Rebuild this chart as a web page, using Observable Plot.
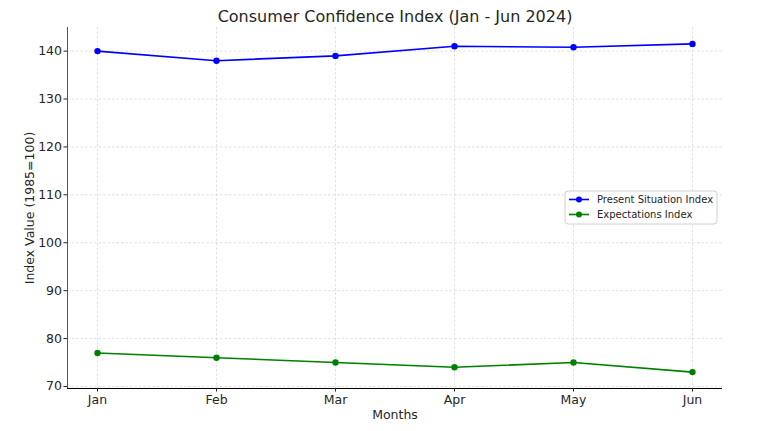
<!DOCTYPE html>
<html>
<head>
<meta charset="utf-8">
<script src="https://cdn.jsdelivr.net/npm/d3@7"></script>
<script src="https://cdn.jsdelivr.net/npm/@observablehq/plot@0.6"></script>
<style>
  html, body { margin: 0; padding: 0; background: #fff; }
  #chart { position: relative; width: 783px; height: 431px; }
  svg { font-family: "DejaVu Sans", sans-serif; }
</style>
</head>
<body>
<div id="chart"></div>
<script>
const months = ["Jan", "Feb", "Mar", "Apr", "May", "Jun"];
const presentSituation = [140, 138, 139, 141, 140.8, 141.5];
const expectations = [77, 76, 75, 74, 75, 73];
const yTicks = [70, 80, 90, 100, 110, 120, 130, 140];
const seriesNames = ["Present Situation Index", "Expectations Index"];
const seriesColors = ["#0000ff", "#008000"];
const titleText = "Consumer Confidence Index (Jan - Jun 2024)";

const rows = [];
months.forEach((m, i) => {
  rows.push({month: m, value: presentSituation[i], series: seriesNames[0]});
  rows.push({month: m, value: expectations[i], series: seriesNames[1]});
});

const yMin = 69.575, yMax = 144.925;

const plot = Plot.plot({
  width: 783,
  height: 431,
  marginLeft: 67,
  marginRight: 61,
  marginTop: 27,
  marginBottom: 43,
  style: {fontFamily: "DejaVu Sans, sans-serif", color: "#262626", background: "#fff"},
  x: {type: "point", domain: months, padding: 0.25, label: null},
  y: {domain: [yMin, yMax], label: null},
  color: {domain: seriesNames, range: seriesColors},
  marks: [
    Plot.gridX(months, {stroke: "#d4d4d4", strokeOpacity: 1, strokeDasharray: "2.5,2", strokeWidth: 0.7}),
    Plot.gridY(yTicks, {stroke: "#d4d4d4", strokeOpacity: 1, strokeDasharray: "2.5,2", strokeWidth: 0.7}),
    Plot.frame({anchor: "left", stroke: "#555"}),
    Plot.ruleY([yMin], {stroke: "#000", strokeWidth: 1.2}),
    Plot.axisX({ticks: months, tickSize: 3.5, tickPadding: 3, fontSize: 12.5, label: "Months", labelAnchor: "center", labelArrow: "none", labelOffset: 30}),
    Plot.axisY({ticks: yTicks, tickSize: 3.5, tickPadding: 2, fontSize: 12.5, label: "Index Value (1985=100)", labelAnchor: "center", labelArrow: "none", labelOffset: 42}),
    Plot.line(rows, {x: "month", y: "value", z: "series", stroke: "series", strokeWidth: 1.6}),
    Plot.dot(rows, {x: "month", y: "value", fill: "series", r: 3.2}),
    Plot.text([titleText], {frameAnchor: "top", dy: -17, fontSize: 16, fill: "#262626"})
  ]
});

document.getElementById("chart").appendChild(plot);

// Legend inside the SVG
const svg = d3.select(plot);
const lg = svg.append("g").attr("transform", "translate(565,191)").attr("text-anchor", "start");
lg.append("rect").attr("width", 152).attr("height", 33).attr("rx", 3)
  .attr("fill", "#fff").attr("fill-opacity", 0.85).attr("stroke", "#d0d0d0");
seriesNames.forEach((name, i) => {
  const y = 8.5 + i * 15;
  lg.append("line").attr("x1", 4).attr("x2", 24).attr("y1", y).attr("y2", y)
    .attr("stroke", seriesColors[i]).attr("stroke-width", 1.6);
  lg.append("circle").attr("cx", 14).attr("cy", y).attr("r", 3).attr("fill", seriesColors[i]);
  lg.append("text").attr("x", 32).attr("y", y).attr("dy", "0.35em")
    .attr("text-anchor", "start")
    .attr("font-size", 10).attr("fill", "#262626").text(name);
});
</script>
</body>
</html>
